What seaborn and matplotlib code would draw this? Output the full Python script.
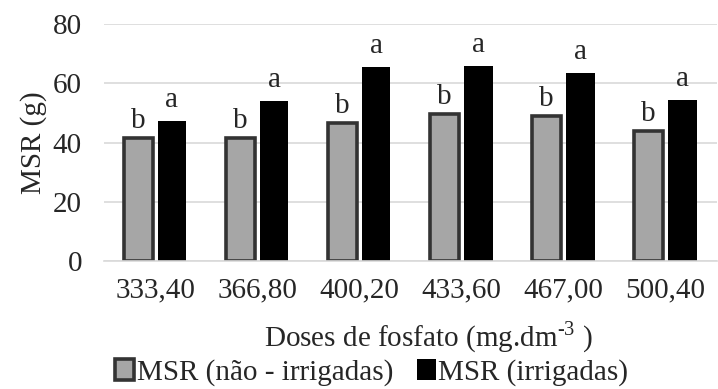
import matplotlib
matplotlib.use("Agg")
import matplotlib.pyplot as plt
import seaborn as sns
import pandas as pd

doses = ["333,40", "366,80", "400,20", "433,60", "467,00", "500,40"]
nao_irrigadas = [41.5, 41.5, 46.6, 49.6, 48.9, 43.9]
irrigadas = [47.3, 54.0, 65.5, 65.8, 63.5, 54.4]
letras_nao = ["b", "b", "b", "b", "b", "b"]
letras_irr = ["a", "a", "a", "a", "a", "a"]
series = ["MSR (não - irrigadas)", "MSR (irrigadas)"]

df = pd.DataFrame({
    "dose": doses * 2,
    "valor": nao_irrigadas + irrigadas,
    "serie": [series[0]] * len(doses) + [series[1]] * len(doses),
})

sns.set_style("white")
plt.rcParams["font.family"] = ["Liberation Serif", "DejaVu Serif"]
plt.rcParams["mathtext.fontset"] = "custom"
plt.rcParams["mathtext.rm"] = "Liberation Serif"

FS = 21

fig = plt.figure(figsize=(7.18, 3.89), dpi=100)
ax = fig.add_axes([0.145, 0.329, 0.853, 0.609])

sns.barplot(data=df, x="dose", y="valor", hue="serie", order=doses,
            hue_order=series, palette=["#a6a6a6", "#000000"],
            width=0.66, gap=0.15, ax=ax, legend=True)

cont_gray, cont_black = ax.containers[0], ax.containers[1]
for p in cont_gray:
    p.set_edgecolor("#333333")
    p.set_linewidth(2.6)
for p in cont_black:
    p.set_edgecolor("none")
    p.set_linewidth(0)

ax.bar_label(cont_gray, labels=letras_nao, padding=3, fontsize=FS)
ax.bar_label(cont_black, labels=letras_irr, padding=6, fontsize=FS)

ax.set_ylim(0, 80)
ax.set_yticks([0, 20, 40, 60, 80])
ax.yaxis.grid(True, color="#d9d9d9", linewidth=1.2)
ax.set_axisbelow(True)
for s in ["top", "right", "left"]:
    ax.spines[s].set_visible(False)
ax.spines["bottom"].set_color("#d9d9d9")
ax.spines["bottom"].set_linewidth(1.2)
ax.tick_params(axis="both", length=0, labelsize=FS)
ax.tick_params(axis="x", pad=12)
ax.tick_params(axis="y", pad=16)
ax.set_xlabel(r"Doses de fosfato (mg.dm$^{\text{-3}}$ )", fontsize=FS)
ax.set_ylabel("MSR (g)", fontsize=FS, labelpad=4)
ax.xaxis.set_label_coords(0.53, -0.245)

leg = ax.legend(loc="center", bbox_to_anchor=(0.437, -0.47), ncol=2,
                frameon=False, fontsize=FS, handlelength=0.65,
                handleheight=0.7, handletextpad=0.1, columnspacing=0.8,
                borderpad=0)
h0, h1 = leg.legend_handles
h0.set_edgecolor("#333333")
h0.set_linewidth(2.6)
h1.set_edgecolor("none")

fig.savefig("out.png", dpi=100)
